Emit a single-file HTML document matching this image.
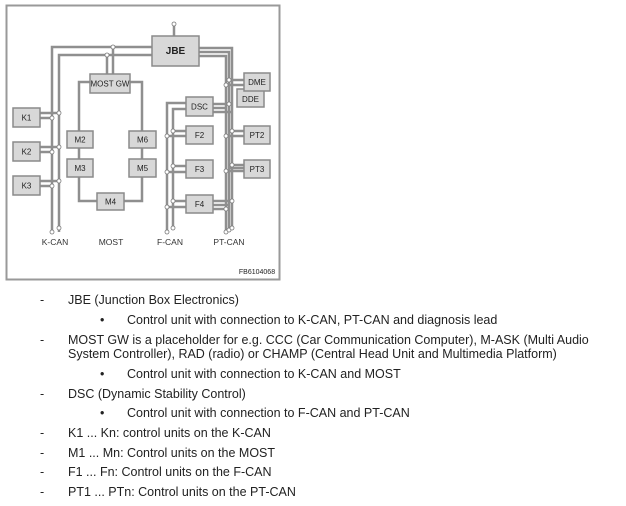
<!DOCTYPE html>
<html><head><style>
body{margin:0;background:#fff;width:626px;height:506px;position:relative;font-family:"Liberation Sans",sans-serif;overflow:hidden}
.t{position:absolute;font-size:12.5px;color:#222;white-space:nowrap;line-height:14px}
</style></head><body>
<svg width="626" height="290" style="position:absolute;left:0;top:0" font-family="Liberation Sans, sans-serif">
<rect x="6.5" y="5.5" width="273" height="274" fill="#fff" stroke="#999" stroke-width="2"/>
<g stroke="#8f8f8f" stroke-width="2.5" fill="none">
<!-- K-CAN -->
<polyline points="52,232 52,47 152,47"/>
<polyline points="59,232 59,55 152,55"/>
<line x1="107" y1="55" x2="107" y2="74"/><line x1="113" y1="47" x2="113" y2="74"/>
<line x1="40" y1="113" x2="59" y2="113"/><line x1="40" y1="118" x2="52" y2="118"/>
<line x1="40" y1="147" x2="59" y2="147"/><line x1="40" y1="152" x2="52" y2="152"/>
<line x1="40" y1="181" x2="59" y2="181"/><line x1="40" y1="186" x2="52" y2="186"/>
<line x1="174" y1="25" x2="174" y2="36"/>
<!-- MOST -->
<polyline points="90,82 79,82 79,201 97,201"/>
<polyline points="130,82 142,82 142,201 124,201"/>
<!-- F-CAN -->
<polyline points="167,232 167,103 186,103"/>
<polyline points="173,228 173,109 186,109"/>
<line x1="167" y1="136" x2="186" y2="136"/><line x1="173" y1="131" x2="186" y2="131"/>
<line x1="167" y1="172" x2="186" y2="172"/><line x1="173" y1="166" x2="186" y2="166"/>
<line x1="167" y1="207" x2="186" y2="207"/><line x1="173" y1="201" x2="186" y2="201"/>
<!-- PT-CAN -->
<polyline points="199,48 232,48 232,228"/>
<polyline points="199,52 229,52 229,231"/>
<polyline points="199,56 226,56 226,232"/>
<line x1="226" y1="85" x2="244" y2="85"/><line x1="229" y1="80" x2="244" y2="80"/>
<line x1="213" y1="104" x2="229" y2="104"/><line x1="213" y1="108" x2="226" y2="108"/><line x1="213" y1="112" x2="232" y2="112"/>
<line x1="226" y1="136" x2="244" y2="136"/><line x1="232" y1="131" x2="244" y2="131"/>
<line x1="226" y1="171" x2="244" y2="171"/><line x1="229" y1="168" x2="244" y2="168"/><line x1="232" y1="165" x2="244" y2="165"/>
<line x1="213" y1="201" x2="232" y2="201"/><line x1="213" y1="205" x2="229" y2="205"/><line x1="213" y1="209" x2="226" y2="209"/>
</g>
<g fill="#fff" stroke="#777" stroke-width="0.8">
<circle cx="174" cy="24" r="2"/><circle cx="52" cy="232" r="2"/><circle cx="59" cy="228" r="2"/>
<circle cx="113" cy="47" r="2"/><circle cx="107" cy="55" r="2"/>
<circle cx="59" cy="113" r="2"/><circle cx="52" cy="118" r="2"/><circle cx="59" cy="147" r="2"/><circle cx="52" cy="152" r="2"/><circle cx="59" cy="181" r="2"/><circle cx="52" cy="186" r="2"/>
<circle cx="167" cy="232" r="2"/><circle cx="173" cy="228" r="2"/>
<circle cx="173" cy="131" r="2"/><circle cx="167" cy="136" r="2"/><circle cx="173" cy="166" r="2"/><circle cx="167" cy="172" r="2"/><circle cx="173" cy="201" r="2"/><circle cx="167" cy="207" r="2"/>
<circle cx="226" cy="232" r="2"/><circle cx="229" cy="230" r="2"/><circle cx="232" cy="228" r="2"/>
<circle cx="229" cy="80" r="2"/><circle cx="226" cy="85" r="2"/><circle cx="229" cy="104" r="2"/><circle cx="232" cy="131" r="2"/><circle cx="226" cy="136" r="2"/><circle cx="232" cy="165" r="2"/><circle cx="226" cy="171" r="2"/><circle cx="232" cy="201" r="2"/><circle cx="226" cy="209" r="2"/>
</g>
<g fill="#d8d8d8" stroke="#8a8a8a" stroke-width="1.5">
<rect x="152" y="36" width="47" height="30"/>
<rect x="90" y="74" width="40" height="19"/>
<rect x="13" y="108" width="27" height="19"/><rect x="13" y="142" width="27" height="19"/><rect x="13" y="176" width="27" height="19"/>
<rect x="67" y="131" width="26" height="17"/><rect x="67" y="159" width="26" height="18"/>
<rect x="129" y="131" width="27" height="17"/><rect x="129" y="159" width="27" height="18"/>
<rect x="97" y="193" width="27" height="17"/>
<rect x="186" y="97" width="27" height="19"/><rect x="186" y="126" width="27" height="18"/><rect x="186" y="160" width="27" height="18"/><rect x="186" y="195" width="27" height="18"/>
<rect x="237" y="89" width="27" height="18"/><rect x="244" y="73" width="26" height="18"/>
<rect x="244" y="126" width="26" height="18"/><rect x="244" y="160" width="26" height="18"/>
</g>
<g font-size="8" fill="#222" text-anchor="middle">
<text x="175.5" y="54" font-size="10" font-weight="bold">JBE</text>
<text x="110" y="86.5">MOST GW</text>
<text x="26.5" y="120.5">K1</text><text x="26.5" y="154.5">K2</text><text x="26.5" y="188.5">K3</text>
<text x="80" y="142.5">M2</text><text x="80" y="171">M3</text><text x="142.5" y="142.5">M6</text><text x="142.5" y="171">M5</text><text x="110.5" y="204.5">M4</text>
<text x="199.5" y="109.5">DSC</text><text x="199.5" y="138">F2</text><text x="199.5" y="172">F3</text><text x="199.5" y="207">F4</text>
<text x="257" y="85">DME</text><text x="250.5" y="102">DDE</text><text x="257" y="138">PT2</text><text x="257" y="172">PT3</text>
<g font-size="8.5" fill="#333"><text x="55" y="245">K-CAN</text><text x="111" y="245">MOST</text><text x="170" y="245">F-CAN</text><text x="229" y="245">PT-CAN</text></g>
<text x="257" y="274" font-size="7">FB6104068</text>
</g>
</svg>
<div class="t" style="left:40px;top:293px">-</div><div class="t" style="left:68px;top:293px">JBE (Junction Box Electronics)</div>
<div class="t" style="left:100px;top:313px">•</div><div class="t" style="left:127px;top:313px">Control unit with connection to K-CAN, PT-CAN and diagnosis lead</div>
<div class="t" style="left:40px;top:333px">-</div><div class="t" style="left:68px;top:333px">MOST GW is a placeholder for e.g. CCC (Car Communication Computer), M-ASK (Multi Audio</div>
<div class="t" style="left:68px;top:347px">System Controller), RAD (radio) or CHAMP (Central Head Unit and Multimedia Platform)</div>
<div class="t" style="left:100px;top:367px">•</div><div class="t" style="left:127px;top:367px">Control unit with connection to K-CAN and MOST</div>
<div class="t" style="left:40px;top:387px">-</div><div class="t" style="left:68px;top:387px">DSC (Dynamic Stability Control)</div>
<div class="t" style="left:100px;top:406px">•</div><div class="t" style="left:127px;top:406px">Control unit with connection to F-CAN and PT-CAN</div>
<div class="t" style="left:40px;top:426px">-</div><div class="t" style="left:68px;top:426px">K1 ... Kn: control units on the K-CAN</div>
<div class="t" style="left:40px;top:446px">-</div><div class="t" style="left:68px;top:446px">M1 ... Mn: Control units on the MOST</div>
<div class="t" style="left:40px;top:465px">-</div><div class="t" style="left:68px;top:465px">F1 ... Fn: Control units on the F-CAN</div>
<div class="t" style="left:40px;top:485px">-</div><div class="t" style="left:68px;top:485px">PT1 ... PTn: Control units on the PT-CAN</div>
</body></html>
